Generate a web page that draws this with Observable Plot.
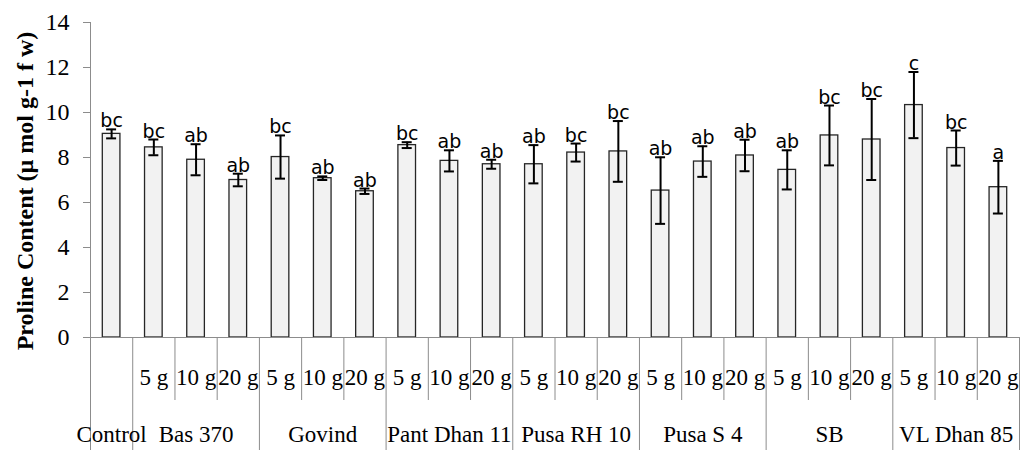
<!DOCTYPE html>
<html>
<head>
<meta charset="utf-8">
<script src="https://cdn.jsdelivr.net/npm/d3@7"></script>
<script src="https://cdn.jsdelivr.net/npm/@observablehq/plot@0.6"></script>
<style>
  html, body { margin: 0; padding: 0; background: #fff; }
  #chart svg { display: block; }
</style>
</head>
<body>
<div id="chart"></div>
<script>
// ---- data ----
const groups = ["Control", "Bas 370", "Govind", "Pant Dhan 11", "Pusa RH 10", "Pusa S 4", "SB", "VL Dhan 85"];
const doses = ["5 g", "10 g", "20 g"];
const means = [9.05, 8.45, 7.90, 7.00, 8.02, 7.08, 6.50, 8.55, 7.85, 7.70, 7.70, 8.22, 8.27, 6.53, 7.82, 8.09, 7.45, 8.98, 8.80, 10.33, 8.42, 6.68];
const errors = [0.20, 0.35, 0.69, 0.28, 0.96, 0.08, 0.12, 0.13, 0.47, 0.20, 0.85, 0.40, 1.35, 1.48, 0.68, 0.70, 0.87, 1.33, 1.80, 1.47, 0.78, 1.17];
const letters = ["bc", "bc", "ab", "ab", "bc", "ab", "ab", "bc", "ab", "ab", "ab", "bc", "bc", "ab", "ab", "ab", "ab", "bc", "bc", "c", "bc", "a"];
const yTicks = [0, 2, 4, 6, 8, 10, 12, 14];
const yTitle = "Proline Content (µ mol g-1 f w)";

// ---- table ----
const rows = [];
groups.forEach(g => {
  const ds = g === "Control" ? [""] : doses;
  ds.forEach(d => {
    const i = rows.length;
    rows.push({group: g, dose: d, i, mean: means[i], err: errors[i], letter: letters[i]});
  });
});
const groupLabels = groups.map(g => {
  const r = rows.filter(d => d.group === g);
  return {group: g, x: (r[0].i + r[r.length - 1].i + 1) / 2};
});
const fullBounds = [0];
groupLabels.forEach(g => { const r = rows.filter(d => d.group === g.group); fullBounds.push(r[r.length - 1].i + 1); });
const subBounds = rows.filter(d => d.dose !== "" && d.dose !== doses[0]).map(d => d.i);

// ---- layout ----
const W = 1021, H = 450, mt = 22, mb = 113, ml = 90, mr = 2;
const serif = "'Liberation Serif', 'Times New Roman', 'DejaVu Serif', serif";
const axisGray = "#8c8c8c";

const chart = Plot.plot({
  width: W, height: H,
  marginTop: mt, marginBottom: mb, marginLeft: ml, marginRight: mr,
  style: {background: "#fff", overflow: "visible"},
  x: {type: "linear", domain: [0, rows.length], axis: null},
  y: {domain: [0, 14], axis: null},
  marks: [
    Plot.axisY({ticks: yTicks, tickSize: 7, tickPadding: 14, stroke: axisGray, fill: "#000",
      fontSize: 24, fontFamily: serif, label: null}),
    Plot.ruleX([0], {stroke: axisGray}),
    Plot.axisX({ticks: fullBounds, tickSize: 113, tickFormat: () => "", stroke: axisGray, label: null}),
    Plot.axisX({ticks: subBounds, tickSize: 63, tickFormat: () => "", stroke: axisGray, label: null}),
    Plot.rectY(rows, {x1: "i", x2: d => d.i + 1, y: "mean", insetLeft: 12.3, insetRight: 12.3,
      fill: "#f2f2f2", stroke: "#262626", strokeWidth: 1.3}),
    Plot.ruleY([0], {stroke: axisGray}),
    Plot.ruleX(rows, {x: d => d.i + 0.5, y1: d => d.mean - d.err, y2: d => d.mean + d.err, stroke: "#000", strokeWidth: 2}),
    Plot.ruleY(rows, {y: d => d.mean + d.err, x1: d => d.i + 0.5, x2: d => d.i + 0.5, insetLeft: -5, insetRight: -5, stroke: "#000", strokeWidth: 2}),
    Plot.ruleY(rows, {y: d => d.mean - d.err, x1: d => d.i + 0.5, x2: d => d.i + 0.5, insetLeft: -5, insetRight: -5, stroke: "#000", strokeWidth: 2}),
    Plot.text(rows, {x: d => d.i + 0.5, y: d => d.mean + d.err, text: "letter", lineAnchor: "bottom", dy: -2,
      fontSize: 19, fontFamily: "'DejaVu Sans', Verdana, sans-serif", fill: "#000"}),
    Plot.text(rows.filter(d => d.dose !== ""), {x: d => d.i + 0.5, text: "dose", frameAnchor: "bottom", lineAnchor: "bottom", dy: 47,
      fontSize: 23, fontFamily: serif, fill: "#000"}),
    Plot.text(groupLabels, {x: "x", text: "group", frameAnchor: "bottom", lineAnchor: "bottom", dy: 104,
      fontSize: 23, fontFamily: serif, fill: "#000"}),
    Plot.text([yTitle], {frameAnchor: "left", textAnchor: "middle", lineAnchor: "middle", rotate: -90, dx: -65, dy: 11, text: d => d,
      fontSize: 24, fontWeight: "bold", fontFamily: serif, fill: "#000"})
  ]
});
document.getElementById("chart").appendChild(chart);
</script>
</body>
</html>
